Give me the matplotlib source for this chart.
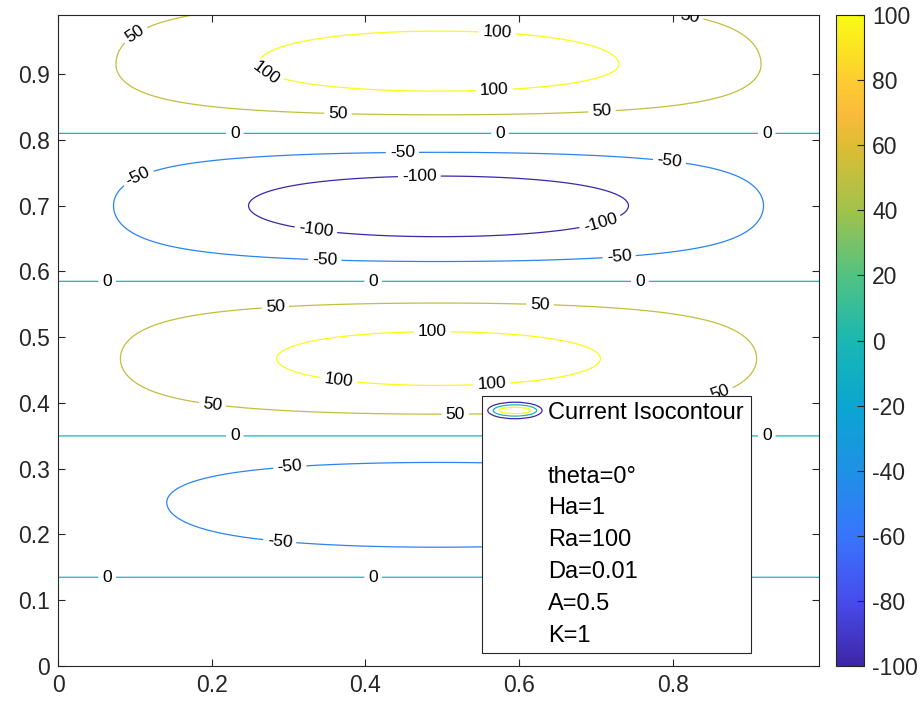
import numpy as np
import matplotlib
matplotlib.use('Agg')  # Sem janela.
import matplotlib.pyplot as plt
from matplotlib.colors import LinearSegmentedColormap, Normalize
from matplotlib.cm import ScalarMappable
from matplotlib.legend_handler import HandlerBase
from matplotlib.patches import Ellipse
from matplotlib.lines import Line2D

plt.rcParams['font.family'] = ['Liberation Sans', 'DejaVu Sans']
plt.rcParams['axes.unicode_minus'] = False

# Faixas horizontais do campo: linhas de zero, posicao e valor do pico.
faixa_zero_inf = [-0.08, 0.135, 0.35, 0.585, 0.81]
faixa_pico_y = [0.03, 0.249, 0.4675, 0.70, 0.915]
faixa_zero_sup = [0.135, 0.35, 0.585, 0.81, 1.045]
faixa_pico_valor = [35, -85, 117, -125, 122]

# Perfil em x (simetrico, centro).
centro_x = 0.495
expoente_x = 0.7
piso_x = 0.05

niveis = [-100, -50, 0, 50, 100]
ticks_x = [0, 0.2, 0.4, 0.6, 0.8]
rotulos_x = ['0', '0.2', '0.4', '0.6', '0.8']
ticks_y = [0, 0.1, 0.2, 0.3, 0.4, 0.5, 0.6, 0.7, 0.8, 0.9]
rotulos_y = ['0', '0.1', '0.2', '0.3', '0.4', '0.5', '0.6', '0.7', '0.8', '0.9']
ticks_cbar = [-100, -80, -60, -40, -20, 0, 20, 40, 60, 80, 100]

legenda_textos = ['Current Isocontour', '', 'theta=0\u00b0', 'Ha=1', 'Ra=100',
                  'Da=0.01', 'A=0.5', 'K=1']

# Colormap parula (aproximado).
parula_pontos = [
    (0.00, (0.2422, 0.1504, 0.6603)),
    (0.10, (0.2788, 0.3000, 0.9300)),
    (0.20, (0.2200, 0.4600, 0.9900)),
    (0.30, (0.1200, 0.5700, 0.9000)),
    (0.40, (0.0400, 0.6500, 0.8200)),
    (0.50, (0.1000, 0.7200, 0.7000)),
    (0.60, (0.3200, 0.7600, 0.5100)),
    (0.70, (0.6300, 0.7600, 0.3000)),
    (0.80, (0.8700, 0.7400, 0.2000)),
    (0.85, (0.9800, 0.7300, 0.2300)),
    (0.90, (0.9900, 0.8000, 0.1900)),
    (1.00, (0.9769, 0.9839, 0.0805)),
]
parula = LinearSegmentedColormap.from_list('parula', parula_pontos)


def perfil_y(y):
    g = np.zeros_like(y)
    for lo, pico, hi, val in zip(faixa_zero_inf, faixa_pico_y, faixa_zero_sup, faixa_pico_valor):
        abaixo = (y >= lo) & (y < pico)
        acima = (y >= pico) & (y < hi)
        g[abaixo] = val * np.cos(np.pi / 2 * (pico - y[abaixo]) / (pico - lo))
        g[acima] = val * np.cos(np.pi / 2 * (y[acima] - pico) / (hi - pico))
    return g


def perfil_x(x):
    s = np.clip(np.cos(np.pi * (x - centro_x)), 0, None)
    return piso_x + (1 - piso_x) * s ** expoente_x


class HandlerIsocontorno(HandlerBase):
    def create_artists(self, legend, orig_handle, xdescent, ydescent, width, height, fontsize, trans):
        cx = width / 2 - xdescent
        cy = height / 2 - ydescent
        artistas = []
        for ew, eh, cor in ((1.0, 1.0, parula(0.0)), (0.8, 0.68, parula(0.5)), (0.58, 0.38, parula(1.0))):
            artistas.append(Ellipse((cx, cy), width * ew, height * eh, fill=False,
                                    edgecolor=cor, lw=0.9, transform=trans))
        return artistas


x = np.linspace(0, 0.99, 400)
y = np.linspace(0, 0.99, 500)
X, Y = np.meshgrid(x, y)
Z = perfil_y(y)[:, None] * perfil_x(x)[None, :]

fig = plt.figure(figsize=(9.22, 7.09), dpi=100)
ax = fig.add_axes([58 / 922, 43 / 709, 761 / 922, 651 / 709])

cs = ax.contour(X, Y, Z, levels=niveis, cmap=parula, vmin=-100, vmax=100, linewidths=0.9)

posicoes_rotulos = [
    (0.106, 0.951), (0.269, 0.898), (0.571, 0.962), (0.568, 0.868), (0.364, 0.835),
    (0.708, 0.838), (0.82, 0.975),
    (0.23, 0.81), (0.575, 0.81), (0.922, 0.81),
    (0.106, 0.739), (0.448, 0.781), (0.795, 0.763), (0.47, 0.75), (0.334, 0.649),
    (0.708, 0.663), (0.347, 0.616), (0.73, 0.623),
    (0.064, 0.585), (0.41, 0.585), (0.757, 0.585),
    (0.283, 0.54), (0.627, 0.545), (0.487, 0.511), (0.366, 0.438), (0.564, 0.432),
    (0.201, 0.40), (0.517, 0.38), (0.857, 0.43),
    (0.23, 0.35), (0.922, 0.35),
    (0.301, 0.312), (0.288, 0.184),
    (0.064, 0.135), (0.41, 0.135),
]
ax.clabel(cs, manual=posicoes_rotulos, inline=True, fontsize=12.5, colors='k',
          fmt=lambda v: f'{v:g}', inline_spacing=4)

ax.set_xlim(0, 0.99)
ax.set_ylim(0, 0.99)
ax.set_xticks(ticks_x)
ax.set_xticklabels(rotulos_x)
ax.set_yticks(ticks_y)
ax.set_yticklabels(rotulos_y)
ax.tick_params(direction='in', top=True, right=True, length=5, width=0.8,
               labelsize=16.5, colors='0.15', pad=6)
for lado in ax.spines.values():
    lado.set_color('0.15')
    lado.set_linewidth(0.8)

handles = [Line2D([], [], color='k')] + [Line2D([], [], linestyle='none') for _ in legenda_textos[1:]]
leg = ax.legend(handles, legenda_textos, loc='upper left',
                bbox_to_anchor=(0.557, 0.026, 0.354, 0.389), mode='expand',
                borderaxespad=0, fontsize=17, handlelength=2.3, handleheight=0.7,
                handletextpad=0.25, borderpad=0.25, labelspacing=0.42,
                fancybox=False, framealpha=1, edgecolor='0.15',
                handler_map={handles[0]: HandlerIsocontorno()})
leg.get_frame().set_linewidth(0.8)

cax = fig.add_axes([836 / 922, 43 / 709, 28 / 922, 651 / 709])
cb = fig.colorbar(ScalarMappable(norm=Normalize(-100, 100), cmap=parula), cax=cax, ticks=ticks_cbar)
cb.ax.tick_params(direction='in', length=5, width=0.8, labelsize=16.5, colors='0.15', pad=6)
cb.outline.set_edgecolor('0.15')
cb.outline.set_linewidth(0.8)

fig.savefig('out.png', dpi=100)
